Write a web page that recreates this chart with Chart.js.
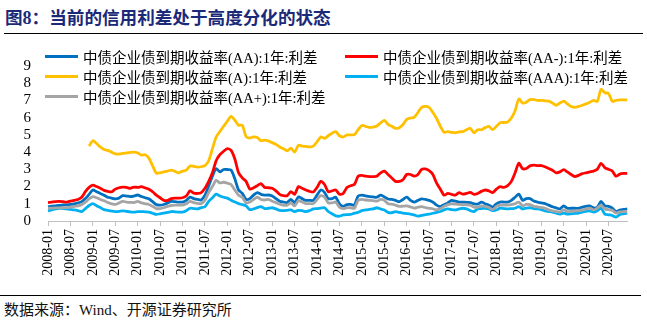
<!DOCTYPE html>
<html lang="zh-CN">
<head>
<meta charset="utf-8">
<script src="https://cdn.jsdelivr.net/npm/chart.js@4.4.1/dist/chart.umd.min.js"></script>
<style>
  html, body { margin: 0; padding: 0; background: #fff; }
  #page {
    position: relative; width: 647px; height: 324px; overflow: hidden;
    font-family: "Times New Roman", "Liberation Serif", "Noto Sans CJK SC", serif; color: #000;
  }
  #title {
    position: absolute; left: 5px; top: 6px; line-height: 22px; white-space: nowrap;
    font-family: "Noto Sans CJK SC", sans-serif; font-weight: bold; font-size: 17.6px; color: #1a2a78;
  }
  #title .num { font-family: "Times New Roman", "Liberation Serif", serif; font-weight: bold; font-size: 18px; }
  .rule { position: absolute; height: 0; border-top: 1.5px solid #000; }
  #chart-wrap { position: absolute; left: 0; top: 40px; width: 647px; height: 250px; }
  .legend-item {
    position: absolute; display: flex; align-items: center; height: 20px; white-space: nowrap;
    font-family: "Times New Roman", "Liberation Serif", "Noto Sans CJK SC", serif; font-size: 14.5px;
  }
  .legend-item .swatch { width: 33px; height: 3px; margin-right: 5px; }
  #source {
    position: absolute; left: 4px; top: 300px; line-height: 20px; white-space: nowrap;
    font-family: "Times New Roman", "Liberation Serif", "Noto Sans CJK SC", serif; font-size: 15px; color: #111;
  }
</style>
</head>
<body>
<div id="page">
  <div id="title">图<span class="num">8</span>：当前的信用利差处于高度分化的状态</div>
  <div class="rule" style="left:4px; width:639px; top:33px;"></div>
  <div id="chart-wrap"><canvas id="chart" width="647" height="250"></canvas></div>
  <div id="legend"></div>
  <div class="rule" style="left:0; width:641px; top:295px;"></div>
  <div id="source">数据来源：Wind、开源证券研究所</div>
</div>
<script>
// Monthly 1-year credit spreads, 2008-01 .. 2020-12 (%)
const months = [];
for (let y = 2008; y <= 2020; y++) {
  for (let m = 1; m <= 12; m++) months.push(`${y}-${String(m).padStart(2, '0')}`);
}

const spreadAA = [
  0.83, 0.86, 0.88, 0.90, 0.93, 0.94, 0.96, 1.00, 1.05, 1.12, 1.30, 1.55,
  1.80, 1.70, 1.60, 1.50, 1.38, 1.33, 1.29, 1.33, 1.47, 1.45, 1.42, 1.45,
  1.51, 1.42, 1.35, 1.29, 1.12, 0.95, 0.92, 0.96, 1.05, 1.14, 1.12, 1.10,
  1.10, 1.20, 1.38, 1.30, 1.25, 1.22, 1.50, 2.03, 2.60, 3.04, 2.85, 2.99,
  2.99, 2.95, 2.45, 1.80, 1.60, 1.25, 1.30, 1.50, 1.65, 1.55, 1.50, 1.51,
  1.45, 1.30, 1.15, 1.10, 1.07, 1.25, 1.07, 1.40, 1.30, 1.20, 1.20, 1.20,
  1.50, 1.80, 1.66, 1.30, 1.30, 1.38, 1.00, 0.85, 0.95, 0.96, 0.92, 1.45,
  1.50, 1.46, 1.42, 1.40, 1.38, 1.50, 1.40, 1.28, 1.25, 1.20, 1.12, 1.25,
  1.38, 1.20, 1.10, 1.20, 1.29, 1.25, 1.20, 1.10, 0.92, 0.84, 0.95, 1.05,
  1.20, 1.15, 1.10, 1.10, 1.08, 1.07, 1.00, 0.98, 1.10, 1.00, 0.92, 0.80,
  1.00, 1.10, 1.10, 1.10, 1.20, 1.38, 1.56, 1.20, 1.30, 1.30, 1.16, 1.10,
  1.05, 1.01, 0.92, 0.83, 0.76, 0.70, 0.88, 0.74, 0.74, 0.74, 0.74, 0.80,
  0.85, 0.88, 0.76, 0.80, 1.14, 0.88, 0.85, 0.75, 0.55, 0.64, 0.68, 0.70
];

const spreadAAminus = [
  1.07, 1.10, 1.13, 1.14, 1.12, 1.10, 1.15, 1.20, 1.25, 1.38, 1.70, 1.95,
  2.08, 2.00, 1.90, 1.78, 1.72, 1.69, 1.85, 1.93, 1.97, 1.95, 1.90, 1.97,
  1.95, 1.99, 1.92, 1.85, 1.70, 1.50, 1.35, 1.20, 1.20, 1.30, 1.33, 1.33,
  1.35, 1.45, 1.75, 1.62, 1.60, 1.65, 1.90, 2.30, 2.80, 3.50, 3.85, 4.05,
  4.20, 4.10, 3.60, 2.80, 2.50, 2.30, 1.85, 1.93, 2.05, 2.17, 1.95, 1.93,
  1.90, 1.75, 1.55, 1.47, 1.47, 1.70, 1.55, 2.00, 1.90, 1.80, 1.72, 1.69,
  1.95, 2.30, 2.12, 1.70, 1.75, 1.80, 1.55, 1.60, 1.95, 2.05, 2.12, 2.60,
  2.65, 2.60, 2.58, 2.58, 2.60, 2.80, 2.90, 2.70, 2.50, 2.30, 2.30, 2.40,
  2.70, 2.70, 2.60, 2.70, 3.00, 3.02, 2.92, 2.70, 2.20, 1.85, 1.50, 1.60,
  1.55, 1.50, 1.65, 1.56, 1.60, 1.66, 1.55, 1.60, 1.72, 1.80, 1.75, 1.65,
  1.85, 1.99, 1.95, 2.05, 2.30, 2.80, 3.35, 3.04, 3.05, 3.20, 3.25, 3.22,
  3.22, 3.15, 3.05, 2.95, 2.80, 2.85, 2.98, 2.85, 2.70, 2.58, 2.65, 2.75,
  2.80, 2.85, 2.90, 3.00, 3.35, 3.10, 3.00, 2.90, 2.60, 2.72, 2.76, 2.76
];

const spreadA = [
  null, null, null, null, null, null, null, null, null, null, null, 4.35,
  4.66, 4.50, 4.30, 4.15, 4.10, 4.00, 3.90, 3.88, 3.92, 3.96, 3.98, 4.00,
  3.95, 3.83, 3.85, 3.65, 3.20, 2.78, 2.80, 2.85, 2.90, 2.95, 2.88, 2.80,
  2.90, 2.95, 3.20, 3.17, 3.13, 3.15, 3.22, 3.50, 4.20, 4.88, 5.20, 5.50,
  5.80, 6.08, 5.85, 5.56, 5.56, 4.90, 4.82, 4.88, 4.85, 4.66, 4.70, 4.65,
  4.55, 4.45, 4.30, 4.20, 4.08, 4.23, 4.00, 4.40, 4.35, 4.33, 4.30, 4.35,
  4.60, 4.88, 4.80, 4.95, 5.10, 5.19, 4.95, 4.88, 5.00, 5.00, 5.01, 5.30,
  5.55, 5.50, 5.43, 5.45, 5.52, 5.70, 5.84, 5.61, 5.50, 5.38, 5.42, 5.60,
  5.90, 5.98, 6.02, 6.30, 6.60, 6.65, 6.59, 6.30, 5.95, 5.50, 5.15, 5.19,
  5.15, 5.12, 5.18, 5.19, 5.30, 5.38, 5.12, 5.30, 5.30, 5.42, 5.49, 5.30,
  5.50, 5.71, 5.72, 5.75, 5.98, 6.40, 7.09, 6.85, 6.90, 7.05, 7.05, 7.00,
  7.00, 6.98, 6.96, 6.85, 6.72, 6.85, 6.96, 6.80, 6.65, 6.60, 6.65, 6.72,
  6.80, 6.90, 7.00, 6.95, 7.64, 7.45, 7.40, 6.95, 7.00, 7.03, 7.03, 7.03
];

const spreadAAA = [
  0.59, 0.64, 0.70, 0.74, 0.72, 0.70, 0.67, 0.64, 0.60, 0.55, 0.72, 0.90,
  1.01, 0.88, 0.78, 0.66, 0.62, 0.58, 0.55, 0.56, 0.59, 0.56, 0.53, 0.52,
  0.54, 0.55, 0.53, 0.52, 0.45, 0.38, 0.42, 0.46, 0.50, 0.55, 0.53, 0.52,
  0.52, 0.60, 0.74, 0.72, 0.70, 0.78, 0.83, 1.14, 1.35, 1.56, 1.45, 1.38,
  1.33, 1.20, 1.10, 1.01, 0.95, 0.88, 0.66, 0.70, 0.78, 0.83, 0.72, 0.74,
  0.77, 0.70, 0.62, 0.60, 0.62, 0.64, 0.55, 0.62, 0.60, 0.55, 0.60, 0.70,
  0.72, 0.75, 0.77, 0.55, 0.42, 0.30, 0.28, 0.35, 0.37, 0.38, 0.46, 0.50,
  0.60, 0.64, 0.68, 0.70, 0.77, 0.70, 0.64, 0.50, 0.48, 0.55, 0.50, 0.46,
  0.43, 0.40, 0.35, 0.28, 0.32, 0.37, 0.40, 0.45, 0.50, 0.55, 0.65, 0.70,
  0.66, 0.64, 0.70, 0.74, 0.70, 0.60, 0.55, 0.70, 0.72, 0.74, 0.70, 0.60,
  0.65, 0.74, 0.72, 0.70, 0.72, 0.74, 0.83, 0.70, 0.75, 0.77, 0.72, 0.70,
  0.66, 0.59, 0.55, 0.52, 0.45, 0.40, 0.46, 0.40, 0.42, 0.44, 0.46, 0.52,
  0.56, 0.59, 0.52, 0.60, 0.74, 0.40, 0.36, 0.32, 0.22, 0.37, 0.42, 0.46
];

const spreadAAplus = [
  0.74, 0.75, 0.76, 0.76, 0.77, 0.78, 0.80, 0.85, 0.88, 0.95, 1.10, 1.28,
  1.42, 1.35, 1.25, 1.18, 1.07, 1.00, 0.96, 1.05, 1.14, 1.10, 1.08, 1.07,
  1.14, 1.05, 1.00, 0.96, 0.85, 0.72, 0.72, 0.77, 0.85, 0.90, 0.92, 0.92,
  0.92, 1.00, 1.14, 1.07, 1.02, 1.01, 1.20, 1.66, 2.00, 2.36, 2.21, 2.25,
  2.20, 2.12, 1.80, 1.50, 1.38, 1.05, 1.10, 1.25, 1.38, 1.25, 1.22, 1.25,
  1.15, 1.07, 0.98, 0.92, 0.92, 1.05, 0.88, 1.18, 1.10, 1.01, 1.01, 1.01,
  1.25, 1.47, 1.38, 1.05, 1.05, 1.10, 0.80, 0.72, 0.77, 0.77, 0.74, 1.20,
  1.25, 1.22, 1.20, 1.18, 1.15, 1.25, 1.20, 1.00, 0.98, 0.92, 0.85, 0.86,
  0.88, 0.82, 0.75, 0.80, 0.83, 0.78, 0.74, 0.70, 0.65, 0.72, 0.85, 0.95,
  1.00, 0.98, 0.96, 0.95, 0.94, 0.92, 0.80, 0.80, 0.88, 0.85, 0.78, 0.66,
  0.85, 0.92, 0.92, 0.92, 0.95, 1.00, 1.10, 0.88, 0.96, 0.95, 0.85, 0.82,
  0.78, 0.74, 0.65, 0.59, 0.55, 0.52, 0.64, 0.55, 0.56, 0.58, 0.60, 0.65,
  0.70, 0.74, 0.65, 0.75, 0.92, 0.70, 0.66, 0.62, 0.46, 0.53, 0.55, 0.55
];

const yTicks = [0, 1, 2, 3, 4, 5, 6, 7, 8, 9];

const serifFamily = '"Times New Roman", "Liberation Serif", serif';

// legend rows/columns: swatch left edge and row centre
const seriesInfo = [
  { name: '中债企业债到期收益率(AA):1年:利差',  color: '#0070c0', data: spreadAA,      lx: 45,  ly: 56 },
  { name: '中债企业债到期收益率(AA-):1年:利差', color: '#ff0000', data: spreadAAminus, lx: 345, ly: 56 },
  { name: '中债企业债到期收益率(A):1年:利差',   color: '#ffc000', data: spreadA,       lx: 45,  ly: 76 },
  { name: '中债企业债到期收益率(AAA):1年:利差', color: '#00b0f0', data: spreadAAA,     lx: 345, ly: 76 },
  { name: '中债企业债到期收益率(AA+):1年:利差', color: '#a5a5a5', data: spreadAAplus,  lx: 45,  ly: 96 }
];

const legend = document.getElementById('legend');
for (const s of seriesInfo) {
  const item = document.createElement('div');
  item.className = 'legend-item';
  item.style.left = s.lx + 'px';
  item.style.top = (s.ly - 10) + 'px';
  item.innerHTML = `<span class="swatch" style="background:${s.color}"></span><span></span>`;
  item.lastChild.textContent = s.name;
  legend.appendChild(item);
}

// later series sit underneath, so reverse to keep AA+ on top
const datasets = seriesInfo.slice().reverse().map(s => ({
  label: s.name,
  data: s.data,
  borderColor: s.color,
  borderWidth: 2.8,
  pointRadius: 0,
  tension: 0.25,
  fill: false
}));

new Chart(document.getElementById('chart'), {
  type: 'line',
  data: { labels: months, datasets },
  options: {
    responsive: false,
    animation: false,
    devicePixelRatio: 1,
    layout: { padding: { top: 17, right: 17, left: 0, bottom: 0 } },
    plugins: { legend: { display: false }, tooltip: { enabled: false } },
    scales: {
      x: {
        ticks: {
          autoSkip: false,
          minRotation: 90,
          maxRotation: 90,
          padding: 3,
          color: '#000',
          font: { family: serifFamily, size: 14 },
          callback: (v, i) => (i % 6 === 0 ? months[i] : '')
        },
        grid: {
          drawOnChartArea: false,
          tickLength: 5,
          color: ctx => (ctx.index % 6 === 0 ? '#bfbfbf' : 'rgba(0,0,0,0)')
        },
        border: { color: '#bfbfbf', width: 1 },
        afterFit: s => { s.height = 69; }
      },
      y: {
        min: 0,
        max: 9,
        afterBuildTicks: s => { s.ticks = yTicks.map(v => ({ value: v })); },
        ticks: {
          autoSkip: false,
          color: '#000',
          padding: 17,
          font: { family: serifFamily, size: 15 }
        },
        grid: { display: false, drawTicks: false },
        border: { display: false },
        afterFit: s => { s.width = 48; }
      }
    }
  }
});
</script>
</body>
</html>
